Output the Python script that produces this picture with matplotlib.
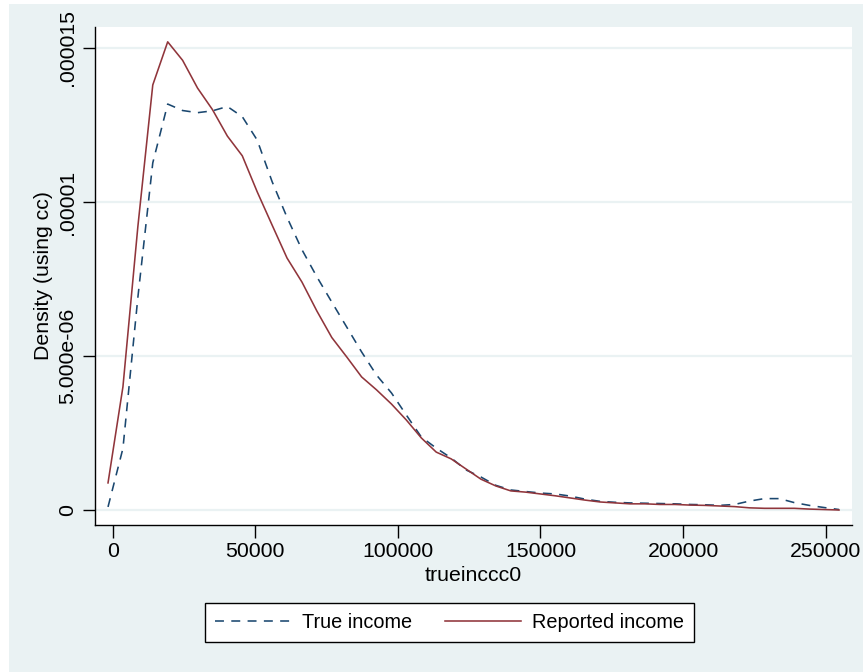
import matplotlib
matplotlib.use("Agg")
import matplotlib.pyplot as plt
from matplotlib.patches import Rectangle

# evaluation grid (income)
income = [-1650, 3581, 8813, 14044, 19276, 24507, 29738, 34970, 40201, 45433,
          50664, 55895, 61127, 66358, 71590, 76821, 82052, 87284, 92515, 97747,
          102978, 108209, 113441, 118672, 123904, 129135, 134366, 139598, 144829, 150061,
          155292, 160523, 165755, 170986, 176218, 181449, 186680, 191912, 197143, 202375,
          207606, 212837, 218069, 223300, 228532, 233763, 238994, 244226, 249457, 254689]

# densities (x 1e-6)
true_density = [0.10, 2.0, 6.9, 11.27, 13.18, 12.97, 12.9, 12.96, 13.1, 12.77,
                12.01, 10.66, 9.50, 8.45, 7.57, 6.75, 5.94, 5.13, 4.38, 3.80,
                3.08, 2.37, 2.01, 1.69, 1.30, 1.07, 0.80, 0.65, 0.60, 0.55,
                0.52, 0.45, 0.35, 0.28, 0.25, 0.23, 0.22, 0.21, 0.20, 0.18,
                0.17, 0.15, 0.18, 0.29, 0.37, 0.37, 0.24, 0.15, 0.08, 0.015]
reported_density = [0.88, 4.0, 9.2, 13.8, 15.2, 14.6, 13.7, 13.0, 12.14, 11.5,
                    10.33, 9.25, 8.18, 7.40, 6.46, 5.60, 4.97, 4.32, 3.90, 3.44,
                    2.92, 2.34, 1.88, 1.66, 1.33, 1.00, 0.78, 0.62, 0.58, 0.52,
                    0.46, 0.39, 0.32, 0.26, 0.23, 0.20, 0.20, 0.18, 0.18, 0.16,
                    0.15, 0.13, 0.11, 0.07, 0.055, 0.055, 0.055, 0.03, 0.015, 0.0]

xticks = [0, 50000, 100000, 150000, 200000, 250000]
xtick_labels = ["0", "50000", "100000", "150000", "200000", "250000"]
yticks = [0, 5e-6, 1e-5, 1.5e-5]
ytick_labels = ["0", "5.000e-06", ".00001", ".000015"]
series_labels = ["True income", "Reported income"]

W, H = 863, 672
FS = 15.3
LFS = 14.3
BG = "#EAF2F3"
NAVY = "#1A476F"
MAROON = "#90353B"

plt.rcParams['font.family'] = ['Liberation Sans', 'DejaVu Sans']

fig = plt.figure(figsize=(W / 100, H / 100), dpi=100, facecolor="white")
fig.patches.append(Rectangle((9 / W, 0), 1 - 9 / W, (H - 4) / H,
                             transform=fig.transFigure, facecolor=BG,
                             edgecolor="none", zorder=-10))

left, right, top, bottom = 95, 852, 27, 525
ax = fig.add_axes([left / W, 1 - bottom / H, (right - left) / W, (bottom - top) / H])
ax.set_facecolor("white")

x_per_px = 50000 / 142.4
y_per_px = 5e-6 / 154.0
ax.set_xlim((left - 112.7) * x_per_px, (851 - 112.7) * x_per_px)
ax.set_ylim(-(bottom - 510) * y_per_px, (510 - top) * y_per_px)

lw = 1.15
ax.plot(income, [v * 1e-6 for v in true_density], color=NAVY, lw=lw,
        linestyle=(0, (5.6, 4.6)), label=series_labels[0], zorder=3)
ax.plot(income, [v * 1e-6 for v in reported_density], color=MAROON, lw=lw,
        label=series_labels[1], zorder=3)

ax.set_xticks(xticks)
ax.set_xticklabels(xtick_labels, fontsize=FS)
ax.set_yticks(yticks)
ax.set_yticklabels(ytick_labels, fontsize=FS)
for lbl in ax.get_yticklabels():
    lbl.set_rotation(90)
    lbl.set_va("center")
    lbl.set_ha("right")

ax.tick_params(axis="both", length=9, width=1.0, color="black")
ax.tick_params(axis="x", pad=3)
ax.tick_params(axis="y", pad=4)

ax.grid(axis="y", color=BG, lw=1.6, zorder=0)
ax.grid(axis="x", visible=False)
ax.set_axisbelow(True)

for s in ["top", "right"]:
    ax.spines[s].set_visible(False)
for s in ["left", "bottom"]:
    ax.spines[s].set_color("black")
    ax.spines[s].set_linewidth(1.0)

fig.text(43.5 / W, 1 - 276 / H, "Density (using cc)", rotation=90,
         ha="center", va="center", fontsize=FS)
fig.text(473 / W, 1 - 581 / H, "trueinccc0", ha="center", va="baseline",
         fontsize=FS)

leg = fig.legend(loc="center", bbox_to_anchor=(449.5 / W, 1 - 622.5 / H),
                 ncol=2, fontsize=LFS, handlelength=3.8, handletextpad=0.58,
                 columnspacing=1.7, borderpad=0.48, fancybox=False,
                 framealpha=1, edgecolor="black")
leg.get_frame().set_linewidth(1.0)

fig.savefig("out.png", dpi=100, facecolor=fig.get_facecolor())
